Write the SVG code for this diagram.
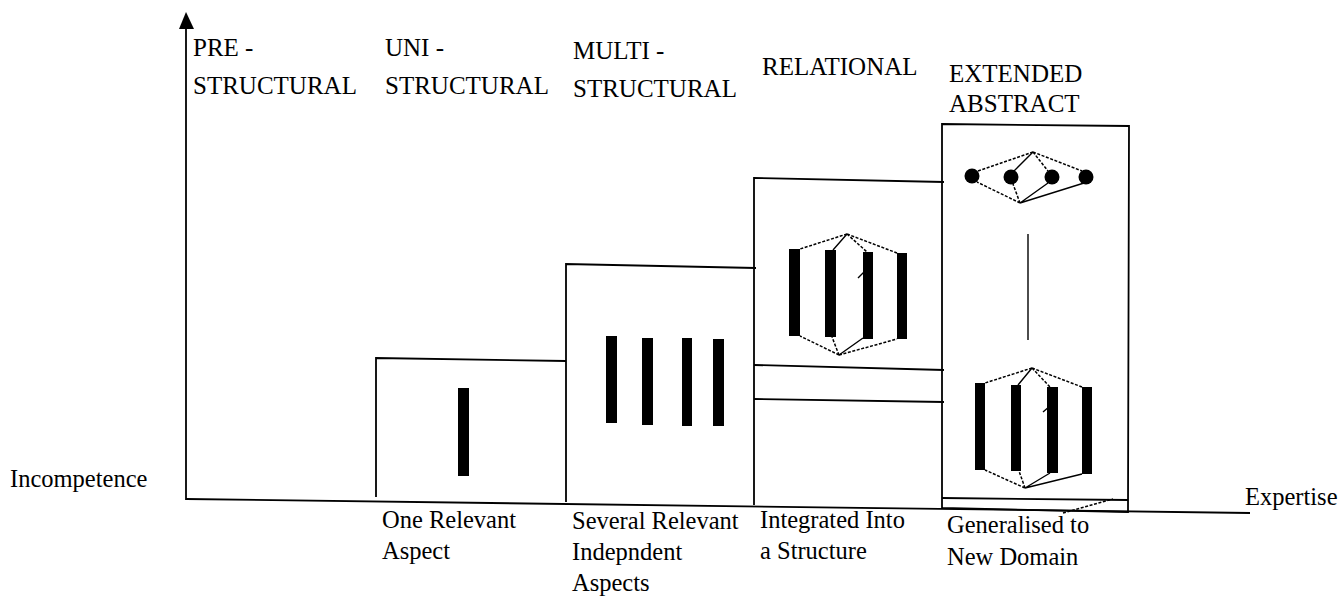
<svg xmlns="http://www.w3.org/2000/svg" width="1341" height="597" viewBox="0 0 1341 597">
<style>
text{font-family:"Liberation Serif","Times New Roman",serif;font-size:24.5px;fill:#000}
.h{font-size:25px}
.ln{stroke:#000;stroke-width:1.8;fill:none}
.d{stroke:#000;stroke-width:1.5;stroke-dasharray:3 1.6;fill:none}
.s{stroke:#000;stroke-width:1.4;fill:none}
.bar{fill:#000}
</style>
<rect width="1341" height="597" fill="#fff"/>
<g id="axes">
<line class="ln" x1="186" y1="500" x2="186" y2="27"/>
<polygon points="186,12 179,29 194,29" fill="#000"/>
<line class="ln" x1="186" y1="499" x2="1250" y2="513"/>
<text x="10" y="487">Incompetence</text>
<text x="1245" y="505">Expertise</text>
</g>
<g id="prestructural">
<text class="h" x="193" y="56">PRE -</text>
<text class="h" x="193" y="94">STRUCTURAL</text>
</g>
<g id="unistructural">
<text class="h" x="385" y="56">UNI -</text>
<text class="h" x="385" y="94">STRUCTURAL</text>
<polyline class="ln" points="376,497 376,358 566,361"/>
<rect class="bar" x="458" y="388" width="11" height="88"/>
<text x="382" y="528">One Relevant</text>
<text x="382" y="559">Aspect</text>
</g>
<g id="multistructural">
<text class="h" x="573" y="59">MULTI -</text>
<text class="h" x="573" y="97">STRUCTURAL</text>
<polyline class="ln" points="566,502 566,264 756,268"/>
<rect class="bar" x="606" y="336" width="11" height="87"/>
<rect class="bar" x="642" y="338" width="11" height="87"/>
<rect class="bar" x="682" y="338" width="10" height="88"/>
<rect class="bar" x="713" y="339" width="11" height="87"/>
<text x="572" y="529">Several Relevant</text>
<text x="572" y="560">Indepndent</text>
<text x="572" y="591">Aspects</text>
</g>
<g id="relational">
<text class="h" x="762" y="75">RELATIONAL</text>
<polyline class="ln" points="754,505 754,178 944,182"/>
<line class="ln" x1="754" y1="365" x2="944" y2="370"/>
<line class="ln" x1="754" y1="399" x2="944" y2="402"/>
<rect class="bar" x="789" y="249" width="11" height="87"/>
<rect class="bar" x="825" y="250" width="11" height="87"/>
<rect class="bar" x="863" y="252" width="10" height="87"/>
<rect class="bar" x="897" y="253" width="10" height="86"/>
<path class="d" d="M847,234 L800,249 M847,234 L867,252 M847,234 L897,253 M839,355 L800,336 M839,355 L832,337 M839,355 L897,339"/>
<path class="s" d="M847,234 L833,250 M839,355 L863,338 M858,278 L866,270"/>
<text x="760" y="528">Integrated Into</text>
<text x="760" y="559">a Structure</text>
</g>
<g id="extended-abstract">
<text class="h" x="949" y="82">EXTENDED</text>
<text class="h" x="949" y="112">ABSTRACT</text>
<polygon class="ln" points="942,124 1129,126 1128,512 942,508"/>
<line class="ln" x1="942" y1="498" x2="1128" y2="500"/>
<circle cx="972" cy="176" r="7.5"/>
<circle cx="1011" cy="177" r="7.5"/>
<circle cx="1052" cy="177" r="7.5"/>
<circle cx="1086" cy="177" r="7.5"/>
<path class="d" d="M1033,152 L978,171 M1033,152 L1048,171 M1033,152 L1082,171 M1020,203 L977,182 M1020,203 L1013,184"/>
<path class="s" d="M1033,152 L1014,171 M1020,203 L1048,183 M1020,203 L1084,183"/>
<line class="s" x1="1028" y1="234" x2="1028" y2="340"/>
<rect class="bar" x="975" y="383" width="10" height="87"/>
<rect class="bar" x="1011" y="385" width="10" height="86"/>
<rect class="bar" x="1047" y="387" width="11" height="86"/>
<rect class="bar" x="1082" y="387" width="10" height="87"/>
<path class="d" d="M1032,368 L985,383 M1032,368 L1050,387 M1032,368 L1082,387 M1025,488 L985,470 M1025,488 L1019,471"/>
<path class="s" d="M1032,368 L1018,385 M1025,488 L1050,473 M1025,488 L1082,474 M1043,412 L1050,406"/>
<line class="d" x1="1063" y1="513" x2="1113" y2="499"/>
<text x="947" y="533">Generalised to</text>
<text x="947" y="565">New Domain</text>
</g>
</svg>
